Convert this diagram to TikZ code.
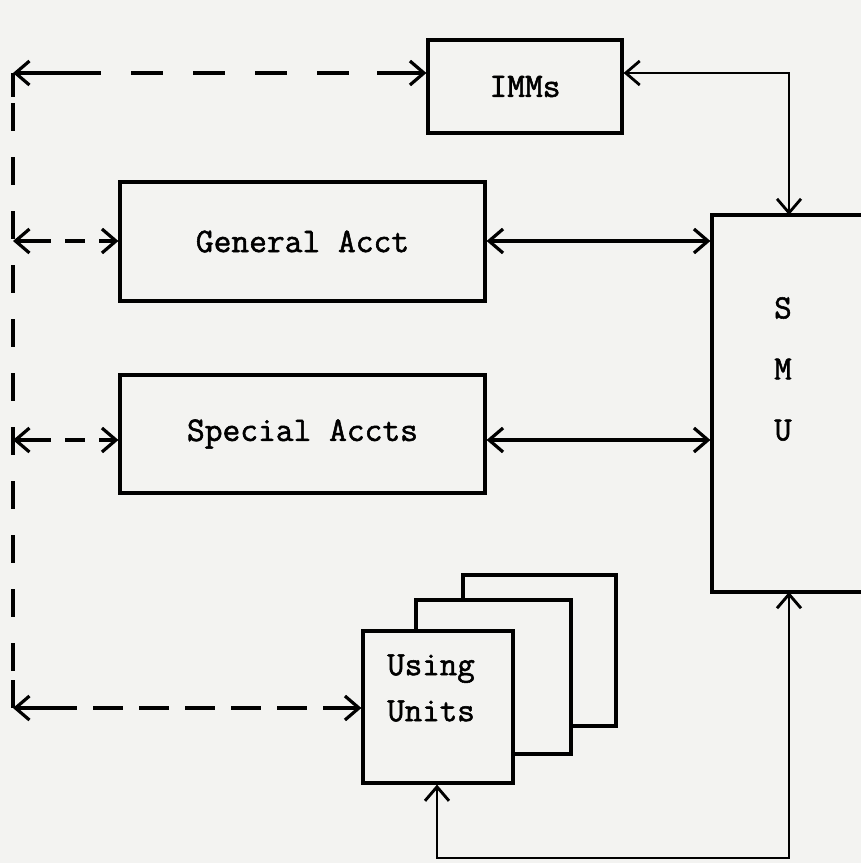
\documentclass[tikz,border=0pt]{standalone}
\usepackage{fontspec}
\setmonofont{Latin Modern Mono}[AutoFakeBold=1.6]
\usetikzlibrary{arrows.meta,calc}
\definecolor{bg}{RGB}{243,243,241}
\begin{document}
\begin{tikzpicture}[x=1pt,y=-1pt,
  lw/.style={line width=3.2pt},
  box/.style={draw, lw, fill=bg, inner sep=0pt, font=\fontsize{34.5}{46}\selectfont\ttfamily\bfseries},
  txt/.style={font=\fontsize{34}{46}\selectfont\ttfamily\bfseries},
  both/.style={{Straight Barb[length=14pt,width=24pt]}-{Straight Barb[length=14pt,width=24pt]}},
  solidarr/.style={lw, both},
  dasharr/.style={lw, both}
]
\useasboundingbox (0,0) rectangle (861,863);
\fill[bg] (0,0) rectangle (861,863);
\begin{scope}
\clip (0,0) rectangle (861,863);
% boxes
\node[box, minimum width=194pt, minimum height=93pt] (imms) at (525,86.5) {IMMs};
\node[box, minimum width=365pt, minimum height=119pt] (gen) at (302.5,241.5) {General Acct};
\node[box, minimum width=365pt, minimum height=118pt] (spec) at (302.5,434) {Special Accts};
\node[box, minimum width=160pt, minimum height=377pt] (smu) at (792,403.5) {};
\node[txt, font=\fontsize{34}{61}\selectfont\ttfamily\bfseries, align=center] (smutext) at (783,369) {S\\M\\U};
% using units stack
\node[box, minimum width=153pt, minimum height=151pt] (uu3) at (539.5,650.5) {};
\node[box, minimum width=155pt, minimum height=154pt] (uu2) at (493.5,677) {};
\node[box, minimum width=150pt, minimum height=152pt] (uu1) at (438,707) {};
\node[txt, align=left] (uutext) at (431,688) {Using\\Units};
% coordinates
\coordinate (tl) at (13,73);
\coordinate (bl) at (13,708);
\coordinate (gl) at (13,241);
\coordinate (sl) at (13,440);
\coordinate (immsl) at (imms.west |- tl);
\coordinate (rc) at (789,73);
\coordinate (smutop) at (789,215);
\coordinate (smubot) at (789,592);
\coordinate (br) at (789,858);
\coordinate (bm) at (437,858);
% left dashed bus
\draw[lw, dash pattern=on 28pt off 26pt, dash phase=-30pt] (tl) -- (bl);
\draw[lw] (tl) -- (13,97);
\draw[lw] (13,680) -- (bl);
\draw[dasharr, dash pattern=on 84pt off 30pt on 32pt off 30pt on 32pt off 30pt on 32pt off 30pt on 32pt off 28pt on 100pt] (tl) -- (immsl);
\draw[dasharr, dash pattern=on 34pt off 14pt on 20pt off 14pt on 40pt] (gl) -- (gl -| gen.west);
\draw[dasharr, dash pattern=on 34pt off 14pt on 20pt off 14pt on 40pt] (sl) -- (sl -| spec.west);
\draw[dasharr, dash pattern=on 60pt off 16pt on 30pt off 16pt on 30pt off 16pt on 30pt off 16pt on 30pt off 16pt on 30pt off 16pt on 60pt] (bl) -- (bl -| uu1.west);
% solid connectors
\draw[solidarr] (gen.east |- gl) -- (smu.west |- gl);
\draw[solidarr] (spec.east |- sl) -- (smu.west |- sl);
\draw[line width=2.8pt, both] (immsl -| imms.east) -- (rc) -- (smutop);
\draw[line width=2.9pt, both] (smubot) -- (br) -- (bm) -- (uu1.south -| bm);
\end{scope}
\end{tikzpicture}
\end{document}
